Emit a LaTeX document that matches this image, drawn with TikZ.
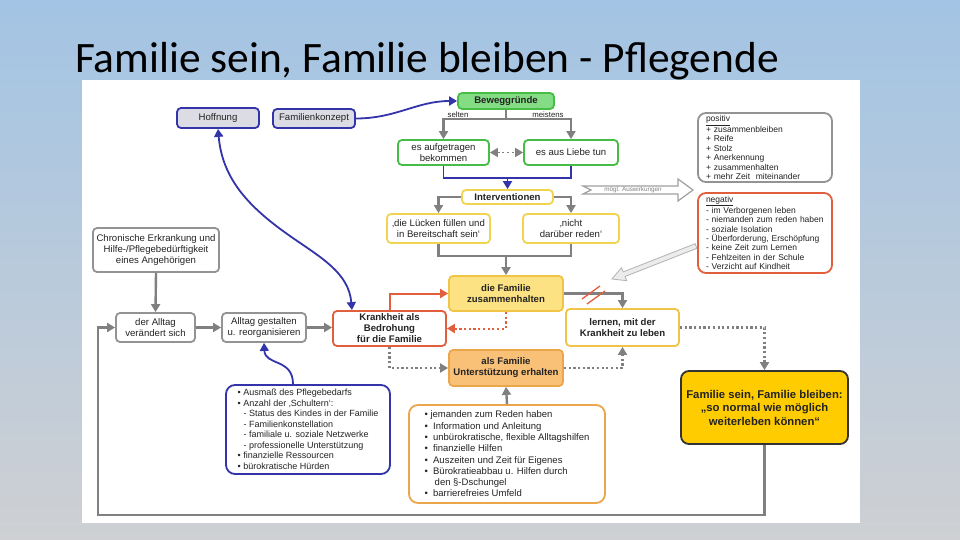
\documentclass[tikz,border=0pt]{standalone}
\usepackage{fontspec}
\setmainfont{Liberation Sans}
\newfontfamily\titlefont{Carlito}
\usetikzlibrary{arrows.meta}

\definecolor{bgtop}{RGB}{163,196,228}
\definecolor{bgmid}{RGB}{180,199,218}
\definecolor{bgbot}{RGB}{206,208,211}
\definecolor{linegray}{RGB}{128,128,128}
\definecolor{linkblue}{RGB}{52,52,170}
\definecolor{hoffgray}{RGB}{220,220,228}
\definecolor{greenline}{RGB}{70,190,70}
\definecolor{greenfill}{RGB}{132,220,132}
\definecolor{yellowline}{RGB}{240,212,80}
\definecolor{famfill}{RGB}{252,226,130}
\definecolor{famline}{RGB}{240,196,70}
\definecolor{orangefill}{RGB}{249,192,120}
\definecolor{orangeline}{RGB}{235,165,75}
\definecolor{redline}{RGB}{225,95,60}
\definecolor{goldfill}{RGB}{255,204,0}
\definecolor{textgray}{RGB}{35,35,35}

\tikzset{
  box/.style = {draw, rounded corners = 4pt, fill = white, line width = 1.8pt,
                align = center, inner sep = 1pt, text = textgray,
                font = \fontsize{9.6}{11}\selectfont},
  strongbox/.style = {box, font = \bfseries\fontsize{9.6}{11}\selectfont},
  bluebox/.style = {box, draw = linkblue, fill = hoffgray},
  greenbox/.style = {box, draw = greenline},
  yellowbox/.style = {box, draw = yellowline},
  graybox/.style = {box, draw = linegray!85},
  listbox/.style = {box, rounded corners = 9pt, align = left,
                    font = \fontsize{9}{10.5}\selectfont},
  sidebox/.style = {box, rounded corners = 8pt, align = left, inner xsep = 8pt,
                    text width = 118, font = \fontsize{8.5}{9.4}\selectfont},
  flow/.style = {draw = linegray, line width = 2.4pt},
  dotflow/.style = {flow, dash pattern = on 2.2pt off 2.5pt},
  link/.style = {draw = linkblue, line width = 1.8pt},
  redflow/.style = {draw = redline, line width = 2pt},
  tinylabel/.style = {text = textgray, inner sep = 0pt,
                      font = \fontsize{7.8}{9}\selectfont}
}

\begin{document}
\begin{tikzpicture}[x = 1pt, y = -1pt, >={Triangle[length = 8pt, width = 9pt]}]
  \useasboundingbox (0,0) rectangle (960,540);
  \shade [top color = bgtop, middle color = bgmid, bottom color = bgbot]
    (0,0) rectangle (960,540);
  \node [anchor = base west, inner sep = 0pt, text = black,
         font = \titlefont\fontsize{43.4}{44}\selectfont]
    (titel) at (75,73) {Familie sein, Familie bleiben - Pflegende};
  \fill [white] (82,80) rectangle (860,523);

  % upper part
  \node [bluebox, minimum width = 82, minimum height = 20] (hoffnung) at (218,118) {Hoffnung};
  \node [bluebox, minimum width = 82, minimum height = 19] (konzept) at (314,118.5) {Familienkonzept};
  \node [strongbox, draw = greenline, fill = greenfill, minimum width = 96, minimum height = 16]
    (beweg) at (506,101) {Beweggründe};
  \node [greenbox, minimum width = 91, minimum height = 25] (auftrag) at (443.5,152.5)
    {es aufgetragen\\bekommen};
  \node [greenbox, minimum width = 94, minimum height = 25] (liebe) at (571,152.5)
    {es aus Liebe tun};
  \node [strongbox, draw = yellowline, minimum width = 91, minimum height = 14]
    (interv) at (507.5,197) {Interventionen};
  \node [yellowbox, minimum width = 103, minimum height = 29] (luecken) at (438.5,228.5)
    {‚die Lücken füllen und\\in Bereitschaft sein‘};
  \node [yellowbox, minimum width = 96, minimum height = 29] (reden) at (571,228.5)
    {‚nicht\\darüber reden‘};
  \node [tinylabel] (selten) at (458,115) {selten};
  \node [tinylabel] (meistens) at (548,115) {meistens};

  % middle row
  \node [graybox, minimum width = 126, minimum height = 44] (chronisch) at (156,250)
    {Chronische Erkrankung und\\Hilfe-/Pflegebedürftigkeit\\eines Angehörigen};
  \node [graybox, minimum width = 79, minimum height = 29] (alltag) at (155.5,327.5)
    {der Alltag\\verändert sich};
  \node [graybox, minimum width = 84, minimum height = 29] (gestalten) at (264,327.5)
    {Alltag gestalten\\u. reorganisieren};
  \node [strongbox, draw = redline, minimum width = 113, minimum height = 35]
    (bedrohung) at (389.5,328.5) {Krankheit als\\Bedrohung\\für die Familie};
  \node [strongbox, draw = famline, fill = famfill, minimum width = 114, minimum height = 35]
    (zusammen) at (506,293.5) {die Familie\\zusammenhalten};
  \node [strongbox, draw = orangeline, fill = orangefill, minimum width = 114, minimum height = 36]
    (erhalten) at (506,368) {als Familie\\Unterstützung erhalten};
  \node [strongbox, draw = famline, minimum width = 113, minimum height = 37]
    (lernen) at (622.5,327.5) {lernen, mit der\\Krankheit zu leben};

  % right side
  \node [sidebox, draw = linegray!85, minimum height = 69] (positiv) at (765,147.5)
    {\underline{positiv}\\+ zusammenbleiben\\+ Reife\\+ Stolz\\+ Anerkennung\\%
     + zusammenhalten\\+ mehr Zeit\ \ miteinander};
  \node [sidebox, draw = redline, minimum height = 80] (negativ) at (765,233)
    {\underline{negativ}\\- im Verborgenen leben\\- niemanden zum reden haben\\%
     - soziale Isolation\\- Überforderung, Erschöpfung\\- keine Zeit zum Lernen\\%
     - Fehlzeiten in der Schule\\- Verzicht auf Kindheit};
  \node [box, draw = black!80, fill = goldfill, line width = 1.8pt, rounded corners = 8pt,
         minimum width = 167, minimum height = 73,
         font = \bfseries\fontsize{11.3}{13.5}\selectfont]
    (ziel) at (764.5,407.5)
    {Familie sein, Familie bleiben:\\„so normal wie möglich\\weiterleben können“};

  % lists
  \node [listbox, draw = linkblue, minimum width = 164, minimum height = 89] (faktoren) at (308,429.5)
    {• Ausmaß des Pflegebedarfs\\• Anzahl der ‚Schultern‘:\\%
     \hspace*{6pt}- Status des Kindes in der Familie\\\hspace*{6pt}- Familienkonstellation\\%
     \hspace*{6pt}- familiale u. soziale Netzwerke\\\hspace*{6pt}- professionelle Unterstützung\\%
     • finanzielle Ressourcen\\• bürokratische Hürden};
  \node [listbox, draw = orangeline, minimum width = 196, minimum height = 98,
         font = \fontsize{9.5}{11.3}\selectfont] (hilfen) at (507,454)
    {• jemanden zum Reden haben\\•\ \ Information und Anleitung\\%
     •\ \ unbürokratische, flexible Alltagshilfen\\•\ \ finanzielle Hilfen\\%
     •\ \ Auszeiten und Zeit für Eigenes\\•\ \ Bürokratieabbau u. Hilfen durch\\%
     \hphantom{•\ \ }\,den §-Dschungel\\•\ \ barrierefreies Umfeld};

  % hollow arrows
  \draw [linegray!75, fill = white, line width = 1.2pt]
    (583,186) -- (678,186) -- (678,179) -- (693,190) -- (678,201) -- (678,194)
    -- (583,194) -- (591,190) -- cycle;
  \node [text = linegray, inner sep = 0pt, font = \fontsize{6.3}{7}\selectfont]
    (auswirkung) at (633,190) {mögl. Auswirkungen};
  \draw [linegray!60, fill = linegray!15, line width = .8pt]
    (696.9,248.3) -- (625.0,276.5) -- (626.7,280.7) -- (612,279) -- (621.5,267.7)
    -- (623.2,271.9) -- (695.1,243.7) -- cycle;

  % connectors
  \draw [link, ->] (konzept.east) to [out = 0, in = 180] (beweg.west);
  \draw [flow] (beweg.south) -- ++(0,9) coordinate (teilung);
  \draw [flow, ->] (teilung) -| (auftrag.north);
  \draw [flow, ->] (teilung) -| (liebe.north);
  \draw [dotflow, line width = 1.6pt, <->] (auftrag) -- (liebe);
  \draw [link] (auftrag.south) -- ++(0,12) -| (liebe.south);
  \draw [link, ->] (interv.north |- 0,177) -- (interv.north);
  \draw [flow, ->] (interv.west) -| (luecken.north);
  \draw [flow, ->] (interv.east) -| (reden.north);
  \draw [flow] (luecken.south) -- ++(0,12) -| (reden.south);
  \draw [flow, ->] (zusammen.north |- 0,255) -- (zusammen.north);
  \draw [redflow, ->] (bedrohung.north) |- (zusammen.west);
  \draw [redflow, dash pattern = on 2.2pt off 2.5pt, ->] (zusammen.south) |- (bedrohung.east);
  \draw [dotflow, ->] (bedrohung.south) |- (erhalten.west);
  \draw [dotflow, ->] (erhalten.east) -| (lernen.south);
  \draw [flow, ->] (zusammen.east) -| (lernen.north);
  \draw [redline, line width = 1.3pt] (582,299) -- (600,286) (587,304) -- (605,291);
  \draw [dotflow, ->] (lernen.east) -| (ziel.north);
  \draw [flow, ->] (ziel.south) |- (98,515) |- (alltag.west);
  \draw [flow, ->] (chronisch.south) -- (alltag.north);
  \draw [flow, ->] (alltag.east) -- (gestalten.west);
  \draw [flow, ->] (gestalten.east) -- (gestalten.east -| bedrohung.west);
  \draw [link, ->] (faktoren.north -| 293,0) .. controls (293,358) and (265,366) .. (gestalten.south);
  \draw [link, <->] (hoffnung.south) to [out = -85, in = 145] (290,236)
    to [out = -35, in = 95] (bedrohung.north -| 352,0);
  \draw [flow, ->] (hilfen.north) -- (erhalten.south);
\end{tikzpicture}
\end{document}
